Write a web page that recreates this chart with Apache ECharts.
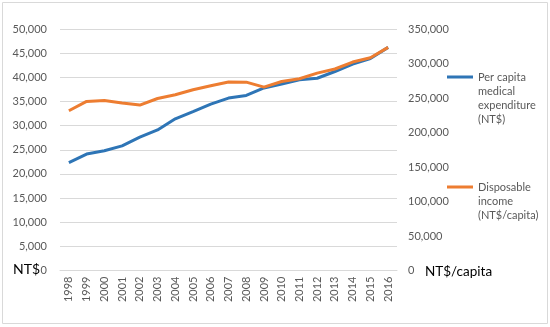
<!DOCTYPE html>
<html><head><meta charset="utf-8">
<script src="https://cdn.jsdelivr.net/npm/echarts@6/dist/echarts.min.js"></script>
<style>html,body{margin:0;padding:0;background:#fff}#c{width:550px;height:327px}</style>
</head><body><div id="c"></div>
<script>
const years = ['1998','1999','2000','2001','2002','2003','2004','2005','2006','2007','2008','2009','2010','2011','2012','2013','2014','2015','2016'];
const medicalExpenditure = [22350,24100,24800,25800,27600,29100,31400,32900,34450,35700,36250,37800,38600,39500,39800,41200,42750,43900,46200];
const disposableIncome = [231500,245000,246400,242600,239700,249300,254700,261900,267700,273100,273000,265800,273900,277900,286100,292000,302100,308400,323400];
const leftTicks = {min:0, max:50000, interval:5000};
const rightTicks = {min:0, max:350000, interval:50000};
const seriesNames = ['Per capita\nmedical\nexpenditure\n(NT$)', 'Disposable\nincome\n(NT$/capita)'];

const FONT = 'Lato, "Open Sans", sans-serif';
const fmt = v => Number(v).toLocaleString('en-US');
const LH = 14;
// legend icon: a short bar aligned with the first text line (tiny anchor points keep the full box height)
function iconPath(h) {
  return 'path://M0,0L0.01,0L0.01,0.01Z M0,5.5L26,5.5L26,8.5L0,8.5Z M0,' + (h - 0.01) + 'L0.01,' + (h - 0.01) + 'L0.01,' + h + 'Z';
}
function legendCfg(name, top, nLines) {
  const h = nLines * LH;
  return {data:[name], orient:'vertical', left:447, top:top, padding:0, itemWidth:26, itemHeight:h,
    icon:iconPath(h), itemGap:0,
    textStyle:{fontSize:11, color:'#595959', fontFamily:FONT, lineHeight:LH}};
}
const chart = echarts.init(document.getElementById('c'));
chart.setOption({
  animation: false,
  textStyle: {fontFamily: FONT},
  graphic: [
    {type:'rect', shape:{x:2.5,y:2.5,width:545,height:321}, style:{fill:'none', stroke:'#d9d9d9', lineWidth:1}},
    {type:'text', left:13, top:262, style:{text:'NT$', font:'14px '+FONT, fill:'#000'}},
    {type:'text', left:425, top:265, style:{text:'NT$/capita', font:'13.5px '+FONT, fill:'#000'}}
  ],
  grid: {left:60, right:153, top:29, bottom:56.5, containLabel:false},
  legend: [
    legendCfg(seriesNames[0], 70, 4),
    legendCfg(seriesNames[1], 180, 3)
  ],
  xAxis: {
    type:'category', data:years, boundaryGap:true,
    axisLine:{lineStyle:{color:'#d9d9d9'}}, axisTick:{show:false},
    axisLabel:{rotate:90, color:'#595959', fontSize:11, margin:6, interval:0, fontFamily:FONT}
  },
  yAxis: [
    {type:'value', min:leftTicks.min, max:leftTicks.max, interval:leftTicks.interval,
     axisLine:{show:false}, axisTick:{show:false},
     axisLabel:{color:'#595959', fontSize:11, margin:13, formatter:fmt, fontFamily:FONT},
     splitLine:{lineStyle:{color:'#d9d9d9'}}},
    {type:'value', min:rightTicks.min, max:rightTicks.max, interval:rightTicks.interval,
     axisLine:{show:false}, axisTick:{show:false},
     axisLabel:{color:'#595959', fontSize:11, margin:11, formatter:fmt, fontFamily:FONT},
     splitLine:{show:false}}
  ],
  series: [
    {name:seriesNames[0], type:'line', yAxisIndex:0, data:medicalExpenditure, symbol:'none',
     lineStyle:{width:3, color:'#2E75B6'}, itemStyle:{color:'#2E75B6'}},
    {name:seriesNames[1], type:'line', yAxisIndex:1, data:disposableIncome, symbol:'none',
     lineStyle:{width:3, color:'#ED7D31'}, itemStyle:{color:'#ED7D31'}}
  ]
});
</script></body></html>
